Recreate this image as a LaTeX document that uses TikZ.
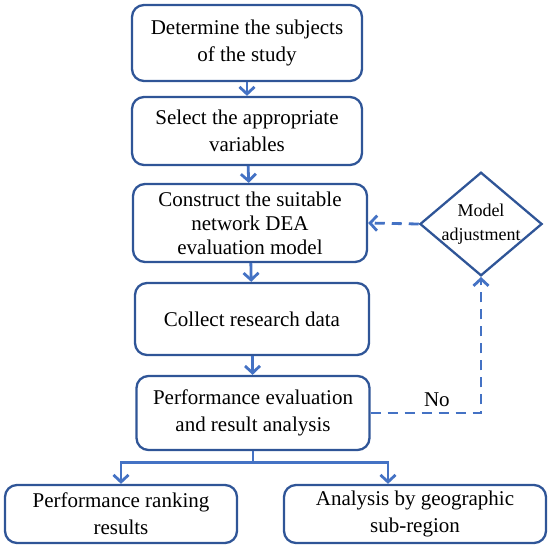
\documentclass[tikz,border=0pt]{standalone}
\usepackage{fontspec}
\setmainfont{Liberation Serif}
\usetikzlibrary{positioning, arrows.meta, shapes.geometric}
\definecolor{edge}{RGB}{47,85,151}
\definecolor{flow}{RGB}{68,114,196}

\begin{document}
\begin{tikzpicture}[
  x=1pt, y=-1pt,
  font=\fontsize{21}{27}\selectfont,
  stage/.style={draw=edge, line width=2.3pt, rounded corners=12pt,
                align=center, inner sep=2pt},
  decide/.style={draw=edge, line width=2.3pt, diamond, aspect=1.18,
                 inner sep=-1pt, align=center,
                 font=\fontsize{18}{24}\selectfont},
  go/.style={draw=flow, line width=2.8pt,
             -{Straight Barb[length=7pt, width=15pt, line width=2.8pt]}},
  back/.style={go, dash pattern=on 10pt off 7pt},
]
\useasboundingbox (0,0) rectangle (550,547);

\node[stage, minimum width=230, minimum height=76] (subj) at (247,43)
  {Determine the subjects\\of the study};
\node[stage, minimum width=230, minimum height=68] (vars) at (247,131)
  {Select the appropriate\\variables};
\node[stage, minimum width=234, minimum height=78,
      font=\fontsize{21}{24}\selectfont] (model) at (250,223)
  {Construct the suitable\\network DEA\\evaluation model};
\node[stage, minimum width=234, minimum height=72] (data) at (252,319)
  {Collect research data};
\node[stage, minimum width=233, minimum height=74] (eval) at (253,413)
  {Performance evaluation\\and result analysis};
\node[stage, minimum width=232, minimum height=58] (rank) at (121,514)
  {Performance ranking\\results};
\node[stage, minimum width=262, minimum height=58] (geo) at (415,514)
  {Analysis by geographic\\sub-region};
\node[decide] (adj) at (481,224) {Model\\adjustment};

% main flow
\draw[go] (subj) -- (vars);
\draw[go] (vars) -- (model);
\draw[go] (model) -- (data);
\draw[go] (data) -- (eval);

% split to results
\coordinate (split) at ([yshift=-11]eval.south);
\draw[draw=flow, line width=2.8pt] (eval.south) -- (split);
\draw[go] (split) -| (rank.north);
\draw[go] (split) -| ([xshift=-27]geo.north);

% feedback loop
\draw[back] (eval.east) -| node[pos=0.3, above=2pt, text=black] {No} (adj.south);
\draw[back] (adj.west) -- (model.east);
\end{tikzpicture}
\end{document}
